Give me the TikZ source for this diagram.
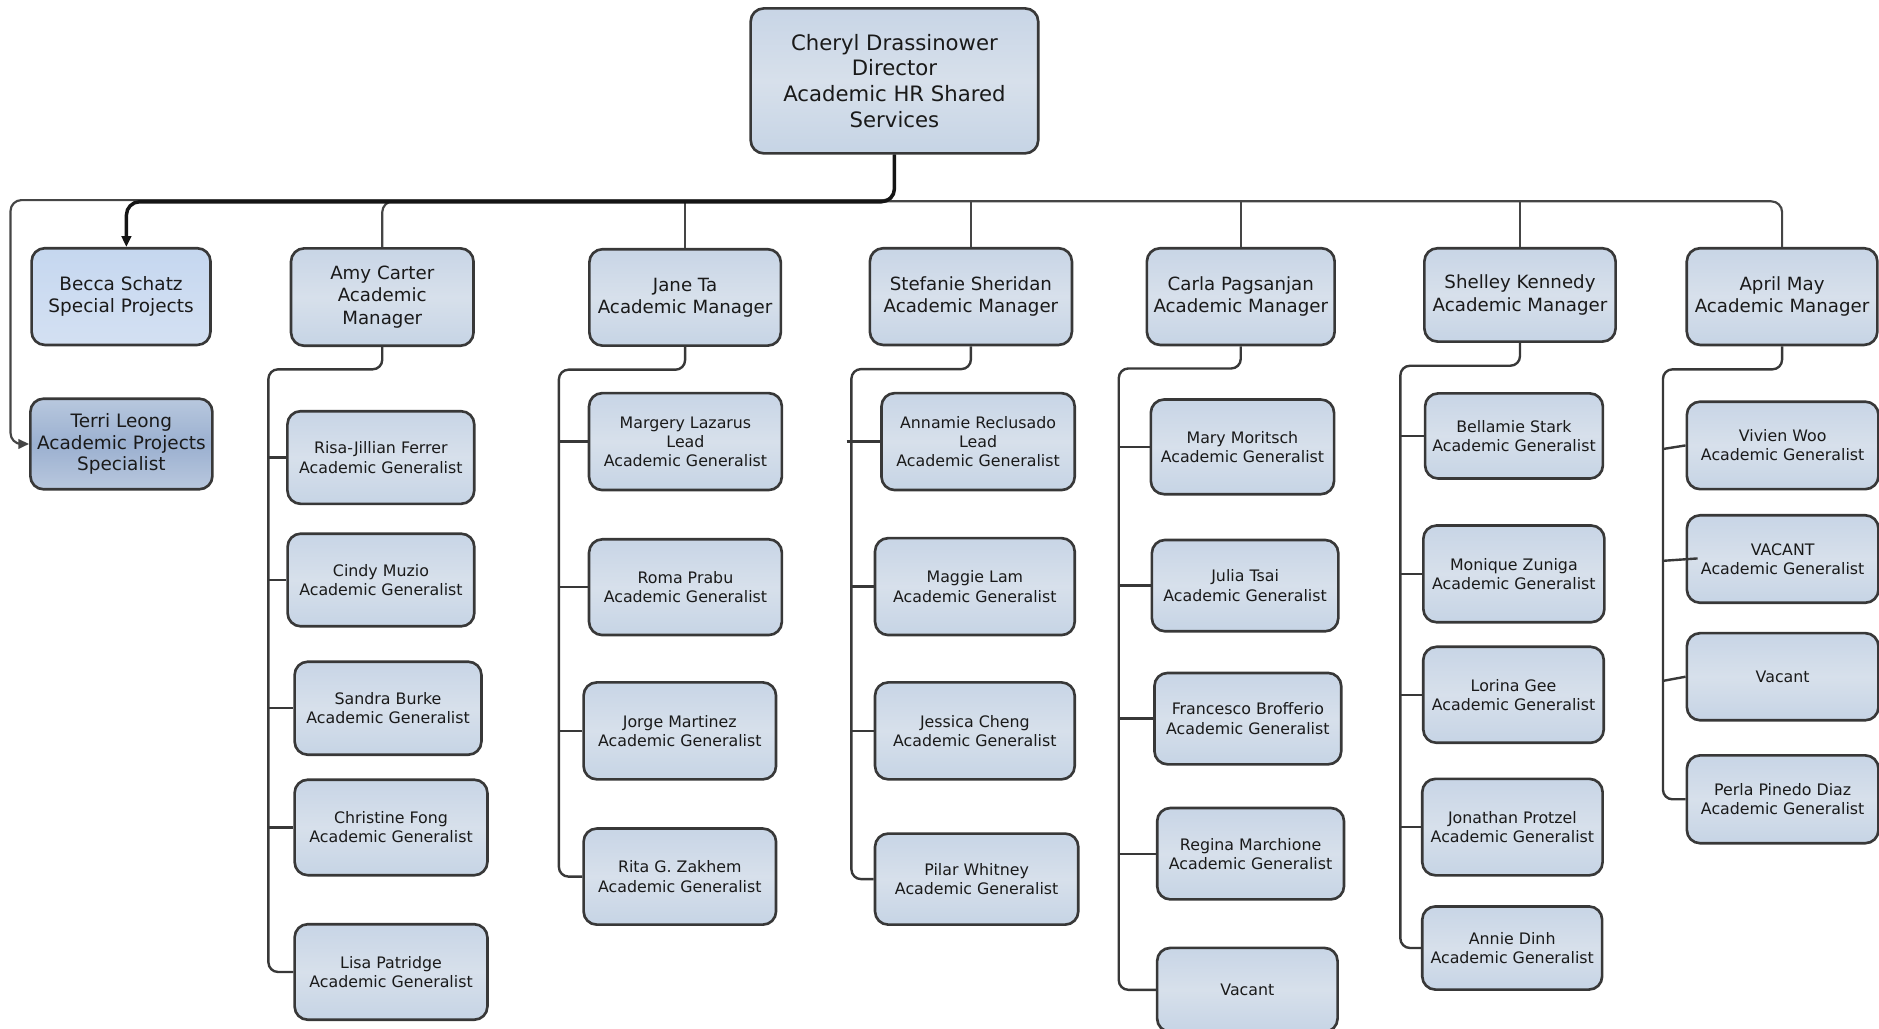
\documentclass[tikz,border=0pt]{standalone}
\usepackage{fontspec}
\setmainfont{DejaVu Sans}
\usetikzlibrary{arrows.meta}
\definecolor{linec}{HTML}{383838}
\definecolor{busc}{HTML}{454545}
\definecolor{darkc}{HTML}{151515}
\definecolor{gtop}{HTML}{C8D5E6}
\definecolor{gmid}{HTML}{D7E0EB}
\definecolor{gbot}{HTML}{C6D4E5}
\definecolor{btop}{HTML}{C5D7EF}
\definecolor{bmid}{HTML}{CDDCF1}
\definecolor{bbot}{HTML}{D3E0F2}
\definecolor{ttop}{HTML}{B8C8DE}
\definecolor{tmid}{HTML}{9BB0D0}
\definecolor{tbot}{HTML}{B9C8DE}
\definecolor{txt}{HTML}{1A1A1A}
\newcommand\orgbox[7]{\node[#2, minimum width=#5pt, minimum height=#6pt] (#1) at (#3,#4) {#7};}
\tikzset{
  box/.style={draw=linec, line width=2.2pt, rounded corners=11pt,
    top color=gtop, bottom color=gbot, middle color=gmid,
    align=center, inner sep=0pt, text=txt},
  gen/.style={box, font=\fontsize{13.2}{16}\selectfont},
  mgr/.style={box, font=\fontsize{15.2}{18.6}\selectfont},
  dir/.style={box, font=\fontsize{17.7}{21.4}\selectfont},
  spec/.style={box, font=\fontsize{15.4}{18.2}\selectfont,
    top color=btop, bottom color=bbot, middle color=bmid},
  specdark/.style={box, font=\fontsize{15.4}{18.2}\selectfont,
    top color=ttop, bottom color=tbot, middle color=tmid},
  conn/.style={draw=linec, line width=2pt, rounded corners=8pt},
  busline/.style={draw=busc, line width=1.8pt, rounded corners=9pt},
  mainline/.style={draw=darkc, line width=2.9pt, rounded corners=11pt},
  arr/.style={-{Triangle[length=9pt,width=8pt]}}
}
\begin{document}
\begin{tikzpicture}[x=1pt,y=-1pt]
\useasboundingbox (0,0) rectangle (1568,857.9);
% top
\orgbox{cheryl}{dir}{746.4}{67.5}{240}{121}{Cheryl Drassinower\\Director\\Academic HR Shared\\Services}
\orgbox{becca}{spec}{101}{247.5}{149.3}{80.7}{Becca Schatz\\Special Projects}
\orgbox{terri}{specdark}{101.3}{370.5}{151.9}{75.6}{Terri Leong\\Academic Projects\\Specialist}
\orgbox{amy}{mgr}{319}{247.9}{152.3}{81.3}{Amy Carter\\Academic\\Manager}
\orgbox{jane}{mgr}{571.7}{248.2}{159.8}{80.5}{Jane Ta\\Academic Manager}
\orgbox{stef}{mgr}{810.2}{247.5}{168.6}{80.7}{Stefanie Sheridan\\Academic Manager}
\orgbox{carla}{mgr}{1035.4}{247.5}{156.7}{80.7}{Carla Pagsanjan\\Academic Manager}
\orgbox{shelley}{mgr}{1268.4}{246.1}{159.6}{77.9}{Shelley Kennedy\\Academic Manager}
\orgbox{april}{mgr}{1487.1}{247.5}{159}{80.7}{April May\\Academic Manager}
% Amy column
\orgbox{risa}{gen}{317.8}{381.8}{155.9}{77.3}{Risa-Jillian Ferrer\\Academic Generalist}
\orgbox{cindy}{gen}{317.9}{484}{155.8}{77.3}{Cindy Muzio\\Academic Generalist}
\orgbox{sandra}{gen}{323.8}{591}{155.9}{77.6}{Sandra Burke\\Academic Generalist}
\orgbox{christine}{gen}{326.3}{690.5}{160.9}{79.7}{Christine Fong\\Academic Generalist}
\orgbox{lisa}{gen}{326.3}{811.1}{160.9}{79.7}{Lisa Patridge\\Academic Generalist}
% Jane column
\orgbox{margery}{gen}{572}{368.5}{160.9}{80.9}{Margery Lazarus\\Lead\\Academic Generalist}
\orgbox{roma}{gen}{572}{490}{160.9}{79.9}{Roma Prabu\\Academic Generalist}
\orgbox{jorge}{gen}{567.3}{609.9}{160.6}{80.9}{Jorge Martinez\\Academic Generalist}
\orgbox{rita}{gen}{567.3}{731.5}{160.6}{80.2}{Rita G. Zakhem\\Academic Generalist}
% Stefanie column
\orgbox{annamie}{gen}{816.2}{368.5}{161.2}{80.9}{Annamie Reclusado\\Lead\\Academic Generalist}
\orgbox{maggie}{gen}{813.5}{489.5}{166.6}{80.9}{Maggie Lam\\Academic Generalist}
\orgbox{jessica}{gen}{813.5}{609.9}{166.6}{80.9}{Jessica Cheng\\Academic Generalist}
\orgbox{pilar}{gen}{815}{733.6}{169.6}{76}{Pilar Whitney\\Academic Generalist}
% Carla column
\orgbox{mary}{gen}{1036.8}{372.9}{152.9}{79}{Mary Moritsch\\Academic Generalist}
\orgbox{julia}{gen}{1039}{488.7}{155.6}{76.2}{Julia Tsai\\Academic Generalist}
\orgbox{francesco}{gen}{1041.3}{599.7}{155.9}{76.3}{Francesco Brofferio\\Academic Generalist}
\orgbox{regina}{gen}{1043.6}{712.4}{155.9}{76.3}{Regina Marchione\\Academic Generalist}
\orgbox{vacantc}{gen}{1040.9}{826}{150.6}{70}{Vacant}
% Shelley column
\orgbox{bellamie}{gen}{1263.4}{363.8}{148.4}{71.1}{Bellamie Stark\\Academic Generalist}
\orgbox{monique}{gen}{1263.3}{478.9}{151.1}{80.7}{Monique Zuniga\\Academic Generalist}
\orgbox{lorina}{gen}{1263}{579.8}{150.6}{80.1}{Lorina Gee\\Academic Generalist}
\orgbox{jonathan}{gen}{1262.1}{690.2}{150.5}{80.5}{Jonathan Protzel\\Academic Generalist}
\orgbox{annie}{gen}{1261.9}{791.1}{150.1}{69.4}{Annie Dinh\\Academic Generalist}
% April column
\orgbox{vivien}{gen}{1487.6}{371.7}{159.9}{73}{Vivien Woo\\Academic Generalist}
\orgbox{vacanta}{gen}{1487.6}{466.5}{159.9}{73}{VACANT\\Academic Generalist}
\orgbox{vacantb}{gen}{1487.6}{564.7}{159.9}{72.7}{Vacant}
\orgbox{perla}{gen}{1487.6}{667}{159.9}{73.3}{Perla Pinedo Diaz\\Academic Generalist}

% connector helper coordinates
\coordinate (tl) at (8.8,167);
\coordinate (bt) at ([xshift=4.5pt]becca.north);
\coordinate (sA) at (224,308.2);
\coordinate (sJ) at (466.4,308.5);
\coordinate (sS) at (710.5,308);
\coordinate (sC) at (933.6,307.5);
\coordinate (sH) at (1168.6,305.2);
\coordinate (sP) at (1387.7,308.2);

% director connectors (thin bus lines first)
\draw[busline] (cheryl.south) -- (cheryl.south |- 0,168) -| (amy.north);
\draw[busline] ([xshift=-16pt]cheryl.south |- 0,168) -| (april.north);
\draw[busline] (jane.north) -- (jane.north |- 0,168);
\draw[busline] (stef.north) -- (stef.north |- 0,168);
\draw[busline] (carla.north) -- (carla.north |- 0,168);
\draw[busline] (shelley.north) -- (shelley.north |- 0,168);
\draw[busline,arr] (cheryl.south) -- (cheryl.south |- tl) -- (tl) |- (terri.west);
\draw[mainline,arr] (cheryl.south) -- (cheryl.south |- 0,168.4) -| (bt);

% Amy column
\draw[conn] (amy.south) -- (amy.south |- sA) -- (sA) |- (lisa.west);
\draw[conn] (sA |- risa.west) -- (risa.west);
\draw[conn] (sA |- cindy.west) -- (cindy.west);
\draw[conn] (sA |- sandra.west) -- (sandra.west);
\draw[conn] (sA |- christine.west) -- (christine.west);
% Jane column
\draw[conn] (jane.south) -- (jane.south |- sJ) -- (sJ) |- (rita.west);
\draw[conn] (sJ |- margery.west) -- (margery.west);
\draw[conn] (sJ |- roma.west) -- (roma.west);
\draw[conn] (sJ |- jorge.west) -- (jorge.west);
% Stefanie column
\draw[conn] (stef.south) -- (stef.south |- sS) -- (sS) |- (pilar.west);
\draw[conn] ([xshift=-4pt]sS |- annamie.west) -- (annamie.west);
\draw[conn] (sS |- maggie.west) -- (maggie.west);
\draw[conn] (sS |- jessica.west) -- (jessica.west);
% Carla column
\draw[conn] (carla.south) -- (carla.south |- sC) -- (sC) |- (vacantc.west);
\draw[conn] (sC |- mary.west) -- (mary.west);
\draw[conn] (sC |- julia.west) -- (julia.west);
\draw[conn] (sC |- francesco.west) -- (francesco.west);
\draw[conn] (sC |- regina.west) -- (regina.west);
% Shelley column
\draw[conn] (shelley.south) -- (shelley.south |- sH) -- (sH) |- (annie.west);
\draw[conn] (sH |- bellamie.west) -- (bellamie.west);
\draw[conn] (sH |- monique.west) -- (monique.west);
\draw[conn] (sH |- lorina.west) -- (lorina.west);
\draw[conn] (sH |- jonathan.west) -- (jonathan.west);
% April column
\draw[conn] (april.south) -- (april.south |- sP) -- (sP) |- (perla.west);
\draw[conn] ([yshift=-3pt]sP |- vivien.west) -- (vivien.west);
\draw[conn] ([yshift=-1.5pt]sP |- vacanta.west) -- ([xshift=10pt,yshift=0.5pt]vacanta.west);
\draw[conn] ([yshift=-3.5pt]sP |- vacantb.west) -- (vacantb.west);
\end{tikzpicture}
\end{document}
